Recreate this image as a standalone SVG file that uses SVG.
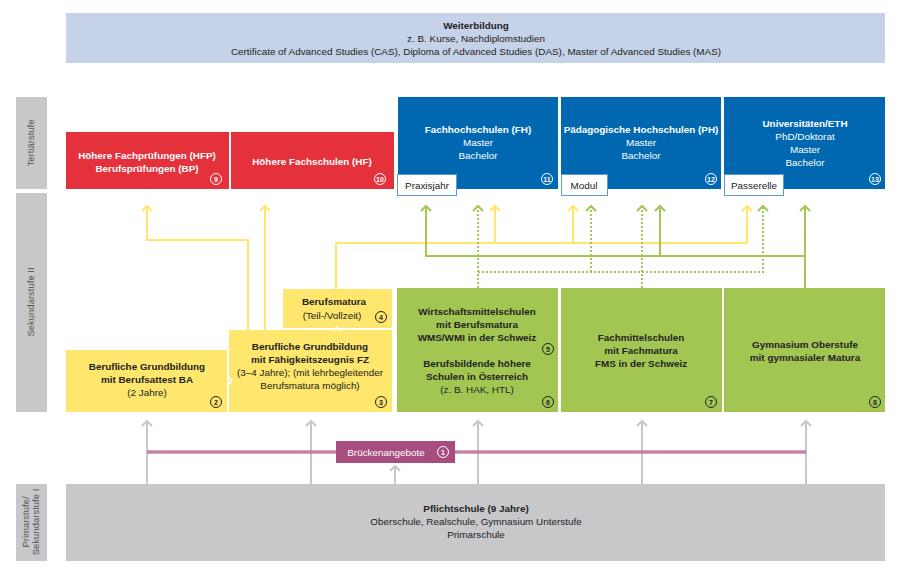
<svg xmlns="http://www.w3.org/2000/svg" width="900" height="576" viewBox="0 0 900 576">
<style>
text{font-family:"Liberation Sans","Noto Sans",sans-serif;font-size:9.9px;text-anchor:middle}
.b{font-weight:bold}
.w{fill:#fff}
.k{fill:#222}
.lab{fill:#555;font-size:9.5px}
.num{font-size:7px;font-weight:bold}
.cw{fill:none;stroke:#fff;stroke-width:1}
.ck{fill:none;stroke:#222;stroke-width:1}
.yl{fill:none;stroke:#fee76c;stroke-width:2}
.gl{fill:none;stroke:#a3c653;stroke-width:2}
.gd{fill:none;stroke:#a3c653;stroke-width:2;stroke-dasharray:2 2}
.gr{fill:none;stroke:#c8c8ca;stroke-width:2}
</style>
<defs>
<marker id="ay" markerWidth="12" markerHeight="12" refX="9" refY="6" orient="auto" markerUnits="userSpaceOnUse" viewBox="0 0 12 12"><polyline points="4,1 9,6 4,11" fill="none" stroke="#fee76c" stroke-width="2"/></marker>
<marker id="ag" markerWidth="12" markerHeight="12" refX="9" refY="6" orient="auto" markerUnits="userSpaceOnUse" viewBox="0 0 12 12"><polyline points="4,1 9,6 4,11" fill="none" stroke="#a3c653" stroke-width="2"/></marker>
<marker id="aa" markerWidth="12" markerHeight="12" refX="9" refY="6" orient="auto" markerUnits="userSpaceOnUse" viewBox="0 0 12 12"><polyline points="4,1 9,6 4,11" fill="none" stroke="#c8c8ca" stroke-width="2"/></marker>
</defs>

<g id="levels">
<rect x="16" y="97" width="31" height="92" fill="#c8c8ca"/>
<text class="lab" transform="translate(34,143) rotate(-90)">Tertiärstufe</text>
<rect x="16" y="193" width="31" height="219" fill="#c8c8ca"/>
<text class="lab" transform="translate(34,302) rotate(-90)">Sekundarstufe II</text>
<rect x="16" y="484" width="31" height="77" fill="#c8c8ca"/>
<text class="lab" transform="translate(29,522) rotate(-90)">Primarstufe/</text>
<text class="lab" transform="translate(39,522) rotate(-90)">Sekundarstufe I</text>
</g>

<g id="weiterbildung">
<rect x="66" y="13" width="819" height="50" fill="#c5d2e8"/>
<text class="b k" x="476" y="29">Weiterbildung</text>
<text class="k" x="476" y="42">z. B. Kurse, Nachdiplomstudien</text>
<text class="k" x="476" y="55">Certificate of Advanced Studies (CAS), Diploma of Advanced Studies (DAS), Master of Advanced Studies (MAS)</text>
</g>

<g id="connectors">
<path class="yl" d="M248 330V240H147V206" marker-end="url(#ay)"/>
<path class="yl" d="M265 330V206" marker-end="url(#ay)"/>
<path class="yl" d="M336 289V243H747V206" marker-end="url(#ay)"/>
<path class="yl" d="M495 243V206" marker-end="url(#ay)"/>
<path class="yl" d="M573 243V206" marker-end="url(#ay)"/>
<path class="gl" d="M805 288V206" marker-end="url(#ag)"/>
<path class="gl" d="M805 256H426V206" marker-end="url(#ag)"/>
<path class="gl" d="M660 256V206" marker-end="url(#ag)"/>
<path class="gd" d="M478 288V206" marker-end="url(#ag)"/>
<path class="gd" d="M642 288V206" marker-end="url(#ag)"/>
<path class="gd" d="M478 272H763V206" marker-end="url(#ag)"/>
<path class="gd" d="M591 272V206" marker-end="url(#ag)"/>
<path class="gr" d="M147 484V421" marker-end="url(#aa)"/>
<path class="gr" d="M311 484V421" marker-end="url(#aa)"/>
<path class="gr" d="M478 484V421" marker-end="url(#aa)"/>
<path class="gr" d="M642 484V421" marker-end="url(#aa)"/>
<path class="gr" d="M806 484V421" marker-end="url(#aa)"/>
<path class="gr" d="M395 484V466" marker-end="url(#aa)"/>
<path d="M147 452H806" fill="none" stroke="#a84d80" stroke-width="3"/>
<path d="M147 452H806" fill="none" stroke="#e2b6cf" stroke-width="1"/>
</g>

<g id="n1">
<rect x="336" y="441" width="119" height="22" fill="#a84d80"/>
<text class="w" x="386" y="456">Brückenangebote</text>
<circle class="cw" cx="443" cy="452" r="5.5"/><text class="num w" x="443" y="454.5">1</text>
</g>

<g id="n9">
<rect x="66" y="132" width="163" height="57" fill="#e4313b"/>
<text class="b w" x="147" y="159">Höhere Fachprüfungen (HFP)</text>
<text class="b w" x="147" y="172">Berufsprüfungen (BP)</text>
<circle class="cw" cx="216" cy="179" r="5.5"/><text class="num w" x="216" y="181.5">9</text>
</g>
<g id="n10">
<rect x="231" y="132" width="163" height="57" fill="#e4313b"/>
<text class="b w" x="312" y="165">Höhere Fachschulen (HF)</text>
<circle class="cw" cx="380" cy="179" r="5.5"/><text class="num w" x="380" y="181.5">10</text>
</g>
<g id="n11">
<rect x="398" y="97" width="160" height="92" fill="#0068b0"/>
<text class="b w" x="478" y="133">Fachhochschulen (FH)</text>
<text class="w" x="478" y="146">Master</text>
<text class="w" x="478" y="159">Bachelor</text>
<circle class="cw" cx="547" cy="179" r="5.5"/><text class="num w" x="547" y="181.5">11</text>
<rect x="397.5" y="174.5" width="59" height="21" fill="#fff" stroke="#5b9bd0"/>
<text class="k" x="427" y="189">Praxisjahr</text>
</g>
<g id="n12">
<rect x="561" y="97" width="160" height="92" fill="#0068b0"/>
<text class="b w" x="641" y="133">Pädagogische Hochschulen (PH)</text>
<text class="w" x="641" y="146">Master</text>
<text class="w" x="641" y="159">Bachelor</text>
<circle class="cw" cx="711" cy="179" r="5.5"/><text class="num w" x="711" y="181.5">12</text>
<rect x="561.5" y="174.5" width="46" height="21" fill="#fff" stroke="#5b9bd0"/>
<text class="k" x="584" y="189">Modul</text>
</g>
<g id="n13">
<rect x="724" y="97" width="161" height="92" fill="#0068b0"/>
<text class="b w" x="805" y="127">Universitäten/ETH</text>
<text class="w" x="805" y="140">PhD/Doktorat</text>
<text class="w" x="805" y="153">Master</text>
<text class="w" x="805" y="166">Bachelor</text>
<circle class="cw" cx="875" cy="179" r="5.5"/><text class="num w" x="875" y="181.5">13</text>
<rect x="724.5" y="174.5" width="59" height="21" fill="#fff" stroke="#5b9bd0"/>
<text class="k" x="754" y="189">Passerelle</text>
</g>

<g id="n2">
<rect x="66" y="350" width="161" height="62" fill="#fee76c"/>
<text class="b k" x="147" y="370">Berufliche Grundbildung</text>
<text class="b k" x="147" y="383">mit Berufsattest BA</text>
<text class="k" x="147" y="396">(2 Jahre)</text>
<circle class="ck" cx="216" cy="402" r="5.5"/><text class="num k" x="216" y="404.5">2</text>
</g>
<g id="n3">
<rect x="229" y="330" width="163" height="82" fill="#fee76c"/>
<text class="b k" x="310" y="350">Berufliche Grundbildung</text>
<text class="b k" x="310" y="363">mit Fähigkeitszeugnis FZ</text>
<text class="k" x="310" y="376">(3–4 Jahre); (mit lehrbegleitender</text>
<text class="k" x="310" y="389">Berufsmatura möglich)</text>
<circle class="ck" cx="381" cy="402" r="5.5"/><text class="num k" x="381" y="404.5">3</text>
<polyline points="228,376 232,381 228,386" fill="none" stroke="#fff" stroke-width="1.5"/>
</g>
<g id="n4">
<rect x="283" y="289" width="109" height="39" fill="#fee76c"/>
<text class="b k" x="334" y="305">Berufsmatura</text>
<text class="k" x="332" y="319">(Teil-/Vollzeit)</text>
<circle class="ck" cx="381" cy="317" r="5.5"/><text class="num k" x="381" y="319.5">4</text>
<polyline points="333,331 337,327 341,331" fill="none" stroke="#fff" stroke-width="1.5"/>
</g>
<g id="n5-6">
<rect x="397" y="288" width="161" height="124" fill="#a3c653"/>
<text class="b k" x="477" y="315">Wirtschaftsmittelschulen</text>
<text class="b k" x="477" y="328">mit Berufsmatura</text>
<text class="b k" x="477" y="341">WMS/WMI in der Schweiz</text>
<circle class="ck" cx="548" cy="349" r="5.5"/><text class="num k" x="548" y="351.5">5</text>
<text class="b k" x="477" y="367">Berufsbildende höhere</text>
<text class="b k" x="477" y="380">Schulen in Österreich</text>
<text class="k" x="477" y="393">(z. B. HAK, HTL)</text>
<circle class="ck" cx="548" cy="402" r="5.5"/><text class="num k" x="548" y="404.5">6</text>
</g>
<g id="n7">
<rect x="561" y="288" width="161" height="124" fill="#a3c653"/>
<text class="b k" x="641" y="341">Fachmittelschulen</text>
<text class="b k" x="641" y="354">mit Fachmatura</text>
<text class="b k" x="641" y="367">FMS in der Schweiz</text>
<circle class="ck" cx="711" cy="402" r="5.5"/><text class="num k" x="711" y="404.5">7</text>
</g>
<g id="n8">
<rect x="724" y="288" width="161" height="124" fill="#a3c653"/>
<text class="b k" x="805" y="348">Gymnasium Oberstufe</text>
<text class="b k" x="805" y="361">mit gymnasialer Matura</text>
<circle class="ck" cx="875" cy="402" r="5.5"/><text class="num k" x="875" y="404.5">8</text>
</g>

<g id="pflichtschule">
<rect x="66" y="484" width="819" height="77" fill="#c8c8ca"/>
<text class="b k" x="476" y="512">Pflichtschule (9 Jahre)</text>
<text class="k" x="476" y="525">Oberschule, Realschule, Gymnasium Unterstufe</text>
<text class="k" x="476" y="538">Primarschule</text>
</g>
</svg>
